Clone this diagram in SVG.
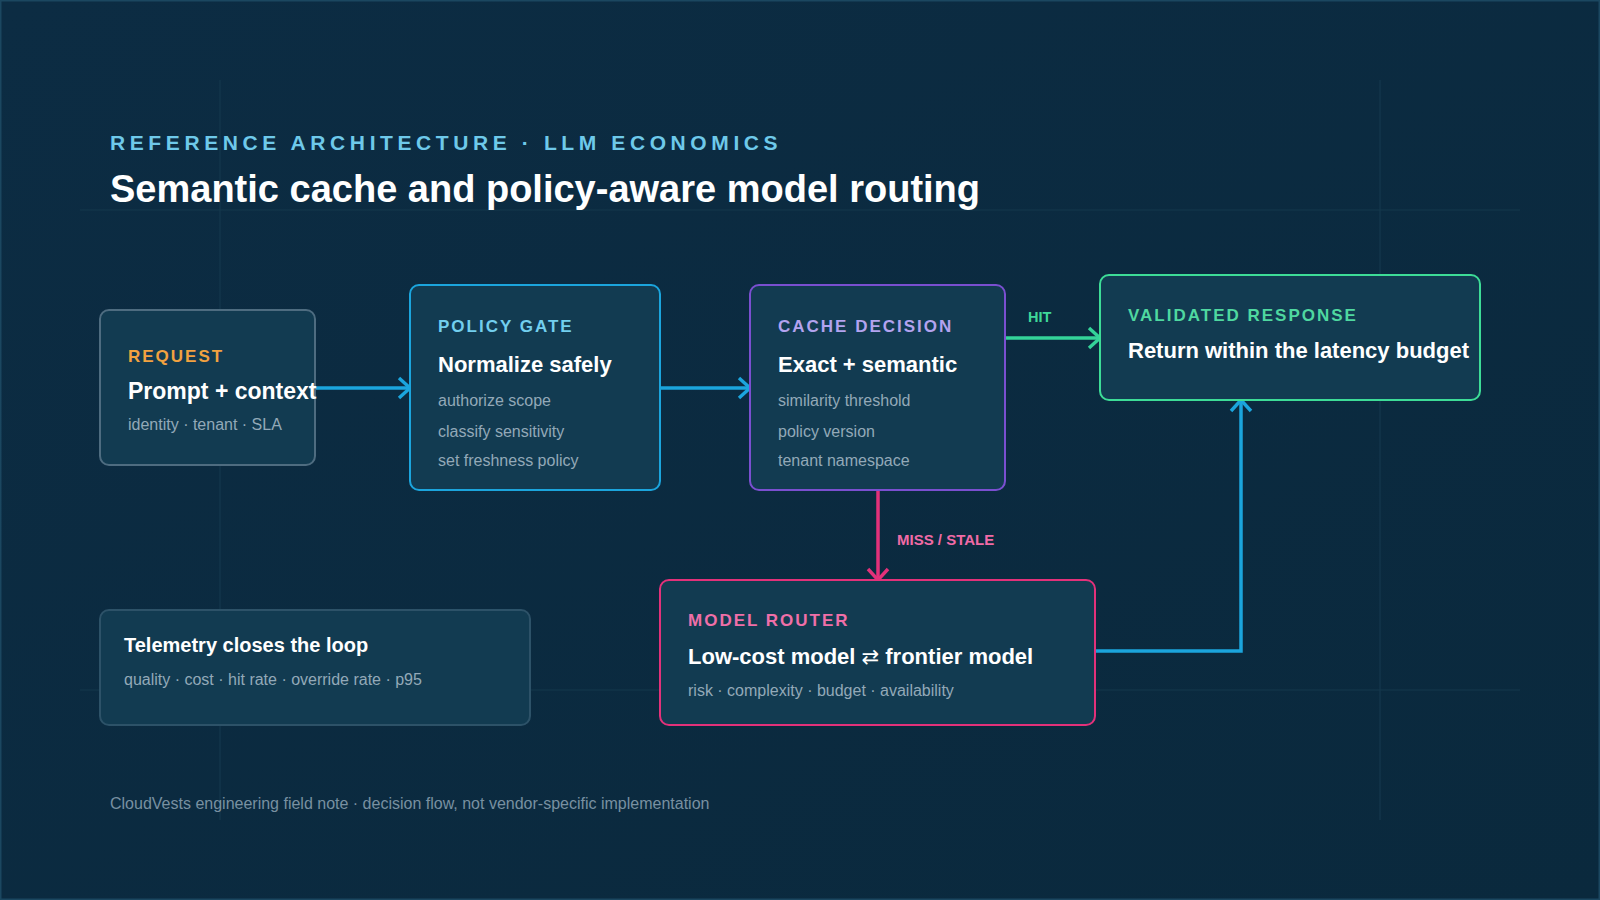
<svg xmlns="http://www.w3.org/2000/svg" width="1600" height="900" viewBox="0 0 1600 900">
<defs>
<linearGradient id="bg" x1="0" y1="0" x2="1" y2="1">
<stop offset="0" stop-color="#0c2c43"/>
<stop offset="1" stop-color="#0a293d"/>
</linearGradient>
<marker id="arrBlue" viewBox="0 0 15 24" refX="13" refY="12" markerWidth="15" markerHeight="24" markerUnits="userSpaceOnUse" orient="auto">
<path d="M2,2 L13,12 L2,22" fill="none" stroke="#1ba5dd" stroke-width="3.4"/>
</marker>
<marker id="arrGreen" viewBox="0 0 15 24" refX="13" refY="12" markerWidth="15" markerHeight="24" markerUnits="userSpaceOnUse" orient="auto">
<path d="M2,2 L13,12 L2,22" fill="none" stroke="#34d399" stroke-width="3.4"/>
</marker>
<marker id="arrPink" viewBox="0 0 15 24" refX="13" refY="12" markerWidth="15" markerHeight="24" markerUnits="userSpaceOnUse" orient="auto">
<path d="M2,2 L13,12 L2,22" fill="none" stroke="#e3317a" stroke-width="3.4"/>
</marker>
</defs>
<style>
text{font-family:"Liberation Sans",Arial,sans-serif}
.grid{stroke:#15384d;stroke-width:1.2;fill:none}
.node{fill:#123b51;stroke-width:2}
.kicker{font-size:17px;font-weight:700;letter-spacing:2px}
.head{font-size:22px;font-weight:700;fill:#ffffff}
.body{font-size:16px;fill:#93a9b8}
.conn{fill:none;stroke-width:3.5}
.lbl{font-size:14.5px;font-weight:700}
</style>
<rect x="0" y="0" width="1600" height="900" fill="url(#bg)"/>
<rect x="0.75" y="0.75" width="1598.5" height="898.5" fill="none" stroke="#1b4760" stroke-width="1.5"/>
<g id="grid">
<line class="grid" x1="220" y1="80" x2="220" y2="820"/>
<line class="grid" x1="1380" y1="80" x2="1380" y2="820"/>
<line class="grid" x1="80" y1="210" x2="1520" y2="210"/>
<line class="grid" x1="80" y1="690" x2="1520" y2="690"/>
</g>
<g id="header">
<text x="110" y="150" font-size="21" font-weight="700" letter-spacing="4.6" fill="#6ec9ea">REFERENCE ARCHITECTURE · LLM ECONOMICS</text>
<text x="110" y="202" font-size="38" font-weight="700" fill="#ffffff">Semantic cache and policy-aware model routing</text>
</g>
<g id="connectors">
<path class="conn" d="M315,388 H410" stroke="#1ba5dd" marker-end="url(#arrBlue)"/>
<path class="conn" d="M660,388 H750" stroke="#1ba5dd" marker-end="url(#arrBlue)"/>
<path class="conn" d="M1005,338 H1100" stroke="#34d399" marker-end="url(#arrGreen)"/>
<text class="lbl" x="1028" y="322" fill="#3fd99a">HIT</text>
<path class="conn" d="M878,490 V580" stroke="#e3317a" marker-end="url(#arrPink)"/>
<text class="lbl" x="897" y="545" style="font-size:15px" fill="#f06aa6">MISS / STALE</text>
<path class="conn" d="M1095,651 H1241 V400" stroke="#1ba5dd" marker-end="url(#arrBlue)"/>
</g>
<g id="node-request">
<rect class="node" x="100" y="310" width="215" height="155" rx="9" stroke="#4e6c80" fill="#143f55"/>
<text class="kicker" x="128" y="362" fill="#f2a240">REQUEST</text>
<text class="head" x="128" y="399" style="font-size:23px">Prompt + context</text>
<text class="body" x="128" y="430">identity · tenant · SLA</text>
</g>
<g id="node-policy">
<rect class="node" x="410" y="285" width="250" height="205" rx="9" stroke="#1ba5dd"/>
<text class="kicker" x="438" y="332" fill="#72cfee">POLICY GATE</text>
<text class="head" x="438" y="372">Normalize safely</text>
<text class="body" x="438" y="406">authorize scope</text>
<text class="body" x="438" y="437">classify sensitivity</text>
<text class="body" x="438" y="466">set freshness policy</text>
</g>
<g id="node-cache">
<rect class="node" x="750" y="285" width="255" height="205" rx="9" stroke="#7a4fd0"/>
<text class="kicker" x="778" y="332" fill="#b3a3ef">CACHE DECISION</text>
<text class="head" x="778" y="372">Exact + semantic</text>
<text class="body" x="778" y="406">similarity threshold</text>
<text class="body" x="778" y="437">policy version</text>
<text class="body" x="778" y="466">tenant namespace</text>
</g>
<g id="node-validated">
<rect class="node" x="1100" y="275" width="380" height="125" rx="9" stroke="#3ddc97"/>
<text class="kicker" x="1128" y="321" fill="#4fd8a0">VALIDATED RESPONSE</text>
<text class="head" x="1128" y="358">Return within the latency budget</text>
</g>
<g id="node-router">
<rect class="node" x="660" y="580" width="435" height="145" rx="9" stroke="#e3317a"/>
<text class="kicker" x="688" y="626" fill="#ef6fa8">MODEL ROUTER</text>
<text class="head" x="688" y="664">Low-cost model <tspan style="font-family:'DejaVu Sans',sans-serif;font-weight:400;font-size:21px">⇄</tspan> frontier model</text>
<text class="body" x="688" y="696">risk · complexity · budget · availability</text>
</g>
<g id="node-telemetry">
<rect class="node" x="100" y="610" width="430" height="115" rx="9" stroke="#2d5268" fill="#0f344a"/>
<text x="124" y="652" font-size="20" font-weight="700" fill="#ffffff">Telemetry closes the loop</text>
<text class="body" x="124" y="685">quality · cost · hit rate · override rate · p95</text>
</g>
<g id="footer">
<text x="110" y="809" font-size="16" fill="#7890a1">CloudVests engineering field note · decision flow, not vendor-specific implementation</text>
</g>
</svg>
